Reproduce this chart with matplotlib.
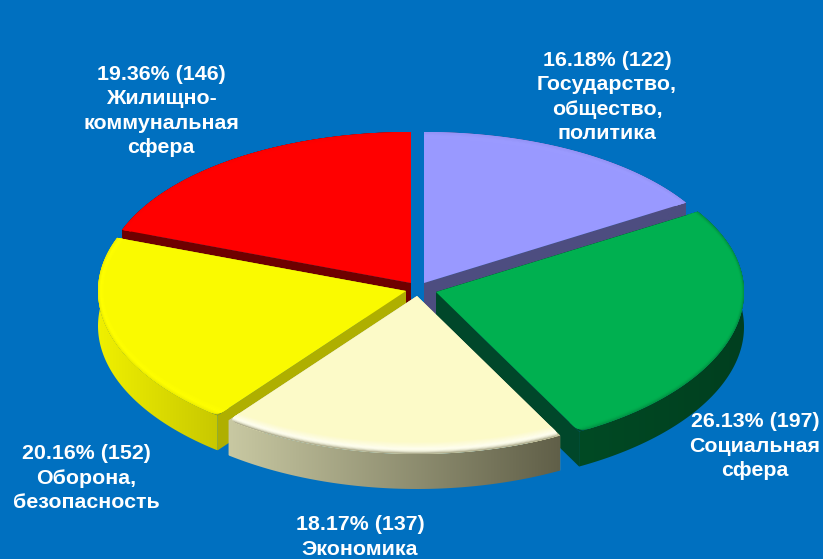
import numpy as np
import matplotlib
matplotlib.use("Agg")
import matplotlib.pyplot as plt
from matplotlib.colors import LinearSegmentedColormap
from matplotlib.patches import Polygon

plt.rcParams['font.family'] = ['Liberation Sans', 'DejaVu Sans']

# data, clockwise from 12 o'clock
names = ["Государство,\nобщество,\nполитика", "Социальная\nсфера", "Экономика",
         "Оборона,\nбезопасность", "Жилищно-\nкоммунальная\nсфера"]
counts = [122, 197, 137, 152, 146]
percents = ["16.18", "26.13", "18.17", "20.16", "19.36"]

# look of each slice
top_colors = ["#9999FF", "#00B050", "#FCFAC8", "#FAFA00", "#FF0000"]
cut_colors = ["#4D4D80", "#00472A", "#C8C8A2", "#AFAF00", "#6E0000"]
wall_left = ["#4D4D80", "#004A24", "#C8C8A2", "#F0F000", "#6E0000"]
wall_right = ["#4D4D80", "#003F1F", "#605F48", "#C8C800", "#6E0000"]
rim_light = ["#9B9BFF", "#00B050", "#FFFFF0", "#FFFF00", "#FF0000"]
rim_edge = ["#9292F6", "#008F42", "#9A9978", "#ECEC00", "#FA0000"]
apex = [(424, 283), (436, 292), (417, 296), (406, 291), (411, 283)]
label_pos = [(607, 97), (755, 446), (360, 537), (86, 478), (161, 111)]

RX = 308
RY_BACK = 151
RY_FRONT = 158
DEPTH = 35
BEVEL_X = 7
BEVEL_Y = 12
CORNER = 8
bg = "#0070C0"


def arc(center, t0, t1, shrink=0.0, n=120):
    # points of the rim, angle in radians clockwise from the top
    t = np.linspace(t0, t1, n)
    ry = (RY_BACK + RY_FRONT) / 2 - (RY_FRONT - RY_BACK) / 2 * np.cos(t)
    x = center[0] + (RX - BEVEL_X * shrink) * np.sin(t)
    y = center[1] - (ry - BEVEL_Y * shrink) * np.cos(t)
    return np.column_stack([x, y])


def mix(c1, c2, f):
    a = np.array(matplotlib.colors.to_rgb(c1))
    b = np.array(matplotlib.colors.to_rgb(c2))
    return tuple(a + (b - a) * f)


def round_start(c, pts):
    # rounds the corner at pts[0]: returns the curve from the cut onto the rim
    corner = pts[0]
    keep = pts[np.hypot(*(pts - corner).T) > CORNER]
    on_cut = corner + (c - corner) / np.hypot(*(c - corner)) * CORNER
    s = np.linspace(0, 1, 8)[:, None]
    curve = (1 - s) ** 2 * on_cut + 2 * s * (1 - s) * corner + s ** 2 * keep[0]
    return np.vstack([curve, keep[1:]])


def face_outline(c, rim, t0, t1):
    pts = rim
    if np.cos(t0) < 0:
        pts = round_start(c, pts)
    if np.cos(t1) < 0:
        pts = round_start(c, pts[::-1])[::-1]
    return np.vstack([c, pts])


def draw_slice(ax, i, t0, t1, z):
    c = np.array(apex[i], dtype=float)
    rim = arc(c, t0, t1)
    down = np.array([0, DEPTH])

    # flat walls along both cuts
    for p in (rim[0], rim[-1]):
        ax.add_patch(Polygon([c, p, p + down, c + down], fc=cut_colors[i], ec="none", zorder=z))

    # outer wall, shaded from left to right
    x0, x1 = rim[:, 0].min(), rim[:, 0].max()
    wall = Polygon(np.vstack([rim, (rim + down)[::-1]]), fc="none", ec="none", zorder=z)
    ax.add_patch(wall)
    cmap = LinearSegmentedColormap.from_list("wall", [wall_left[i], wall_right[i]])
    img = ax.imshow(np.linspace(0, 1, 256)[None, :], cmap=cmap, aspect="auto", zorder=z,
                    extent=(x0, x1, rim[:, 1].max() + DEPTH, rim[:, 1].min()))
    img.set_clip_path(wall)

    # sharp face in the wall colour shows behind the rounded corners
    ax.add_patch(Polygon(np.vstack([c, rim]), fc=cut_colors[i], ec="none", zorder=z))

    # top face, then rings for the bevel from the inside out, kept inside the face
    face = Polygon(face_outline(c, rim, t0, t1), fc=top_colors[i], ec="none", zorder=z)
    ax.add_patch(face)
    steps = 14
    for k in range(steps):
        s0 = 1 - k / steps
        s1 = 1 - (k + 1) / steps
        outer = arc(c, t0 - 0.1, t1 + 0.1, s1)
        inner = arc(c, t0 - 0.1, t1 + 0.1, s0)
        f = (k + 0.5) / steps
        if f < 0.6:
            col = mix(top_colors[i], rim_light[i], f / 0.6)
        else:
            col = mix(rim_light[i], rim_edge[i], ((f - 0.6) / 0.4) ** 2)
        ring = Polygon(np.vstack([inner, outer[::-1]]), fc=col, ec=col, lw=0.3, zorder=z)
        ax.add_patch(ring)
        ring.set_clip_path(face)


fig = plt.figure(figsize=(8.23, 5.59), dpi=100, facecolor=bg)
ax = fig.add_axes([0, 0, 1, 1])

edges = np.concatenate([[0], np.cumsum(counts)]) / sum(counts) * 2 * np.pi

# back slices first so the front ones cover their walls
for z, i in enumerate([4, 0, 3, 1, 2]):
    draw_slice(ax, i, edges[i], edges[i + 1], z + 1)

ax.set_xlim(0, 823)
ax.set_ylim(559, 0)
ax.axis("off")

for i in range(len(names)):
    ax.text(label_pos[i][0], label_pos[i][1], f"{percents[i]}% ({counts[i]})\n{names[i]}",
            color="white", fontsize=15.4, fontweight="bold", ha="center", va="center",
            linespacing=1.36, zorder=10)

fig.savefig("out.png", dpi=100, facecolor=bg)
